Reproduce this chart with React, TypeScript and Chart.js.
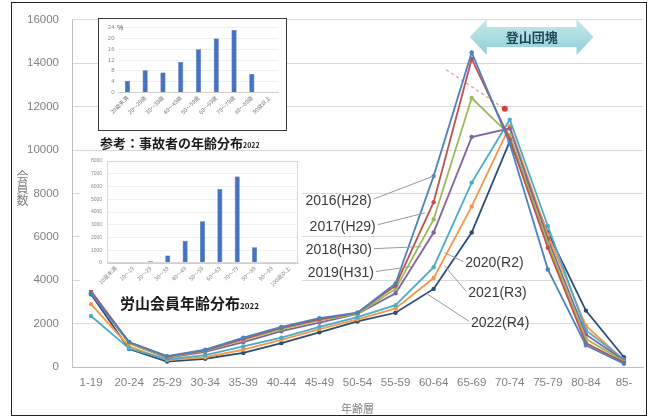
import React, { useEffect, useRef } from "react";
import { Chart, registerables } from "chart.js";
Chart.register(...registerables);

// ---------- main chart data ----------
const ageGroups = ["1-19", "20-24", "25-29", "30-34", "35-39", "40-44", "45-49", "50-54", "55-59", "60-64", "65-69", "70-74", "75-79", "80-84", "85-"];
const yearLabels = ["2016(H28)", "2017(H29)", "2018(H30)", "2019(H31)", "2020(R2)", "2021(R3)", "2022(R4)"];
const members2016 = [3400, 1150, 500, 800, 1350, 1850, 2250, 2500, 3850, 8800, 14500, 10300, 4500, 1000, 150];
const members2017 = [3500, 1150, 480, 780, 1300, 1800, 2200, 2500, 3750, 7600, 14200, 10500, 5500, 1100, 200];
const members2018 = [3450, 1100, 450, 750, 1250, 1750, 2150, 2450, 3600, 6800, 12400, 10700, 5700, 1300, 250];
const members2019 = [3400, 1100, 420, 700, 1150, 1650, 2050, 2450, 3400, 6200, 10600, 11000, 5900, 1500, 300];
const members2020 = [2350, 850, 350, 550, 950, 1350, 1850, 2300, 2850, 4600, 8500, 11400, 6500, 1700, 350];
const members2021 = [2900, 950, 320, 450, 800, 1250, 1750, 2200, 2700, 4100, 7400, 11100, 6100, 1900, 300];
const members2022 = [3350, 830, 250, 380, 650, 1100, 1600, 2100, 2500, 3600, 6200, 10400, 6200, 2600, 450];
const seriesValues = [members2016, members2017, members2018, members2019, members2020, members2021, members2022];
const seriesColors = ["#4F81BD", "#C0504D", "#9BBB59", "#8064A2", "#4BACC6", "#F79646", "#2C4D75"];
const yMax = 16000;
const yStep = 2000;

// dashed red trend mark (x in category-index units)
const trendX = [9.33, 10.87];
const trendY = [13700, 11900];

// series label annotations: text anchor (index, value) and leader end (index, value)
const noteTexts = yearLabels;
const noteAnchorX = [7.37, 7.48, 7.38, 7.43, 9.83, 9.91, 9.98];
const noteAnchorY = [7650, 6465, 5364, 4310, 4768, 3393, 2017];
const noteTargetX = [9.0, 8.78, 8.68, 8.42, 9.28, 9.28, 8.81];
const noteTargetY = [8800, 7107, 5548, 4631, 5273, 4677, 3393];
const noteSide = ["right", "right", "right", "right", "left", "left", "left"];

const bandText = "登山団塊";
const bandFrom = 9.95;
const bandTo = 13.2;

// ---------- inset 1: accident age distribution ----------
const accidentAges = ["20歳未満", "20～29歳", "30～39歳", "40～49歳", "50～59歳", "60～69歳", "70～79歳", "80～89歳", "90歳以上"];
const accidentPct = [4.3, 8.2, 7.4, 11.3, 16.0, 19.9, 23.1, 6.8, 0.2];

// ---------- inset 2: member age distribution ----------
const memberAges = ["10歳未満", "10～19", "20～29", "30～39", "40～49", "50～59", "60～69", "70～79", "80～89", "90～99", "100歳以上"];
const memberCounts = [0, 0, 130, 590, 1750, 3280, 5800, 6790, 1240, 0, 0];

const SANS = "'Liberation Sans', Arial, sans-serif";
const CJK = "'Noto Sans CJK JP', sans-serif";

const annotationPlugin = {
  id: "annot",
  afterDatasetsDraw(chart: any) {
    const ctx = chart.ctx;
    const x2 = chart.scales.x2;
    const y = chart.scales.y;
    ctx.save();
    ctx.font = `14px ${SANS}`;
    ctx.textBaseline = "middle";
    for (let i = 0; i < noteTexts.length; i++) {
      const ax = x2.getPixelForValue(noteAnchorX[i]);
      const ay = y.getPixelForValue(noteAnchorY[i]);
      const tx = x2.getPixelForValue(noteTargetX[i]);
      const ty = y.getPixelForValue(noteTargetY[i]);
      ctx.fillStyle = "#3a3a3a";
      ctx.textAlign = noteSide[i] === "right" ? "right" : "left";
      ctx.fillText(noteTexts[i], ax, ay);
      ctx.strokeStyle = "#9a9a9a";
      ctx.lineWidth = 1;
      ctx.beginPath();
      const sx = noteSide[i] === "right" ? ax + 2 : ax - 2;
      ctx.moveTo(sx, ay - 2);
      ctx.lineTo(tx, ty);
      ctx.stroke();
    }
    ctx.restore();
  },
  afterDraw(chart: any) {
    const ctx = chart.ctx;
    const x2 = chart.scales.x2;
    const top = chart.chartArea.top;
    const l = x2.getPixelForValue(bandFrom);
    const r = x2.getPixelForValue(bandTo);
    const cy = top + 17;
    const headH = 18, bodyH = 10, headL = 17;
    ctx.save();
    const g = ctx.createLinearGradient(0, cy - headH, 0, cy + headH);
    g.addColorStop(0, "#c9eaec");
    g.addColorStop(1, "#8fcfd6");
    ctx.fillStyle = g;
    ctx.beginPath();
    ctx.moveTo(l, cy);
    ctx.lineTo(l + headL, cy - headH);
    ctx.lineTo(l + headL, cy - bodyH);
    ctx.lineTo(r - headL, cy - bodyH);
    ctx.lineTo(r - headL, cy - headH);
    ctx.lineTo(r, cy);
    ctx.lineTo(r - headL, cy + headH);
    ctx.lineTo(r - headL, cy + bodyH);
    ctx.lineTo(l + headL, cy + bodyH);
    ctx.lineTo(l + headL, cy + headH);
    ctx.closePath();
    ctx.fill();
    ctx.fillStyle = "#1f4656";
    ctx.font = `bold 13px ${CJK}`;
    ctx.textAlign = "center";
    ctx.textBaseline = "middle";
    ctx.fillText(bandText, (l + r) / 2, cy);
    ctx.restore();
  },
};

const boxPlugin = {
  id: "box",
  afterDraw(chart: any) {
    const { ctx, chartArea } = chart;
    ctx.save();
    ctx.strokeStyle = "#d8d8d8";
    ctx.lineWidth = 1;
    ctx.strokeRect(chartArea.left + 0.5, chartArea.top + 0.5, chartArea.right - chartArea.left - 1, chartArea.bottom - chartArea.top - 1);
    ctx.restore();
  },
};

const plainNumber = (v: any) => String(v);

function MainChart() {
  const ref = useRef<HTMLCanvasElement>(null);
  useEffect(() => {
    const datasets: any[] = seriesValues.map((vals, i) => ({
      label: yearLabels[i],
      data: vals,
      borderColor: seriesColors[i],
      backgroundColor: seriesColors[i],
      borderWidth: 1.8,
      pointRadius: 2.2,
      pointBorderWidth: 0,
      pointBackgroundColor: seriesColors[i],
      tension: 0,
    }));
    datasets.push({
      label: "trend",
      xAxisID: "x2",
      data: trendX.map((x, i) => ({ x, y: trendY[i] })),
      borderColor: "#e89090",
      borderDash: [3, 3],
      borderWidth: 1.2,
      pointRadius: [0, 3],
      pointBorderWidth: 0,
      pointBackgroundColor: "#e23a3a",
    });
    const chart = new Chart(ref.current!, {
      type: "line",
      data: { labels: ageGroups, datasets },
      options: {
        responsive: false,
        animation: false,
        layout: { padding: { left: 22, right: 8, top: 18, bottom: 0 } },
        plugins: { legend: { display: false }, tooltip: { enabled: false } },
        scales: {
          x: {
            type: "category",
            offset: true,
            grid: { display: false, drawTicks: false },
            border: { color: "#bfbfbf" },
            ticks: { color: "#808080", font: { size: 11.5, family: SANS }, padding: 9, maxRotation: 0, autoSkip: false },
            title: { display: true, text: "年齢層", color: "#808080", font: { size: 11, family: CJK }, padding: { top: 0, bottom: 3 } },
            afterFit: (s: any) => { s.height = 51; },
          },
          x2: { type: "linear", display: false, min: -0.5, max: 14.5 },
          y: {
            min: 0,
            max: yMax,
            ticks: { stepSize: yStep, color: "#808080", font: { size: 11.5, family: SANS }, padding: 13, callback: plainNumber },
            grid: { color: "#d9d9d9", drawTicks: false },
            border: { color: "#bfbfbf" },
            afterFit: (s: any) => { s.width = 50; },
          },
        },
      } as any,
      plugins: [annotationPlugin],
    });
    return () => chart.destroy();
  }, []);
  return <canvas ref={ref} width={651} height={418} style={{ position: "absolute", left: 0, top: 0 }} />;
}

function AccidentInset() {
  const ref = useRef<HTMLCanvasElement>(null);
  useEffect(() => {
    const chart = new Chart(ref.current!, {
      type: "bar",
      data: {
        labels: accidentAges,
        datasets: [{ data: accidentPct, backgroundColor: "#4472C4", borderColor: "#2f528f", borderWidth: 0.5, barPercentage: 0.36, categoryPercentage: 0.8 }],
      },
      options: {
        responsive: false,
        animation: false,
        layout: { padding: { left: 0, right: 6.5, top: 8.5, bottom: 0 } },
        plugins: { legend: { display: false }, tooltip: { enabled: false } },
        scales: {
          x: {
            grid: { display: false, drawTicks: false },
            border: { color: "#cfcfcf" },
            ticks: { font: { size: 5.5, family: CJK }, color: "#777", minRotation: 45, maxRotation: 45, autoSkip: false, padding: 2 },
            afterFit: (s: any) => { s.height = 36.5; },
          },
          y: {
            min: 0,
            max: 24,
            ticks: { stepSize: 4, font: { size: 6, family: SANS }, color: "#888", padding: 4 },
            grid: { color: "#efefef", drawTicks: false },
            border: { display: false },
            afterFit: (s: any) => { s.width = 19.5; },
          },
        },
      } as any,
    });
    return () => chart.destroy();
  }, []);
  return <canvas ref={ref} width={186} height={110} style={{ display: "block" }} />;
}

function MemberInset() {
  const ref = useRef<HTMLCanvasElement>(null);
  useEffect(() => {
    const chart = new Chart(ref.current!, {
      type: "bar",
      data: {
        labels: memberAges,
        datasets: [{ data: memberCounts, backgroundColor: "#4472C4", borderColor: "#2f528f", borderWidth: 0.5, barPercentage: 0.36, categoryPercentage: 0.8 }],
      },
      options: {
        responsive: false,
        animation: false,
        layout: { padding: { left: 0, right: 4, top: 7, bottom: 0 } },
        plugins: { legend: { display: false }, tooltip: { enabled: false } },
        scales: {
          x: {
            grid: { display: false, drawTicks: false },
            border: { color: "#cfcfcf" },
            ticks: { font: { size: 5.5, family: CJK }, color: "#888", minRotation: 45, maxRotation: 45, autoSkip: false, padding: 2 },
            afterFit: (s: any) => { s.height = 27; },
          },
          y: {
            min: 0,
            max: 8000,
            ticks: { stepSize: 1000, font: { size: 5, family: SANS }, color: "#888", padding: 5, callback: plainNumber },
            grid: { color: "#f0f0f0", drawTicks: false },
            border: { display: false },
            afterFit: (s: any) => { s.width = 27; },
          },
        },
      } as any,
      plugins: [boxPlugin],
    });
    return () => chart.destroy();
  }, []);
  return <canvas ref={ref} width={222} height={137} style={{ display: "block" }} />;
}

export default function App() {
  return (
    <div style={{ position: "absolute", left: 0, top: 0, width: 651, height: 418, background: "#ffffff", overflow: "hidden" }}>
      <MainChart />
      <div style={{ position: "absolute", left: 98, top: 18, width: 189, height: 113, boxSizing: "border-box", border: "1.5px solid #3a3a3a", background: "#fff" }}>
        <AccidentInset />
        <span style={{ position: "absolute", left: 18, top: 5, fontSize: 7, fontFamily: SANS, color: "#555" }}>%</span>
      </div>
      <div style={{ position: "absolute", left: 100, top: 133, fontFamily: CJK, fontWeight: 700, fontSize: 13, color: "#1a1a1a", whiteSpace: "nowrap", lineHeight: "20px" }}>
        参考：事故者の年齢分布<span style={{ fontSize: 7 }}>2022</span>
      </div>
      <div style={{ position: "absolute", left: 80, top: 153, width: 222, height: 137, background: "#fff" }}>
        <MemberInset />
      </div>
      <div style={{ position: "absolute", left: 120, top: 291, fontFamily: CJK, fontWeight: 700, fontSize: 15, color: "#1a1a1a", whiteSpace: "nowrap", lineHeight: "24px" }}>
        労山会員年齢分布<span style={{ fontSize: 8 }}>2022</span>
      </div>
      <div style={{ position: "absolute", left: 16, top: 170, writingMode: "vertical-rl", fontFamily: CJK, fontSize: 12, color: "#7f7f7f", lineHeight: 1 }}>
        会員数
      </div>
      <div style={{ position: "absolute", left: 11, top: 2, width: 636, height: 414, boxSizing: "border-box", border: "1.5px solid #222", pointerEvents: "none" }} />
    </div>
  );
}
